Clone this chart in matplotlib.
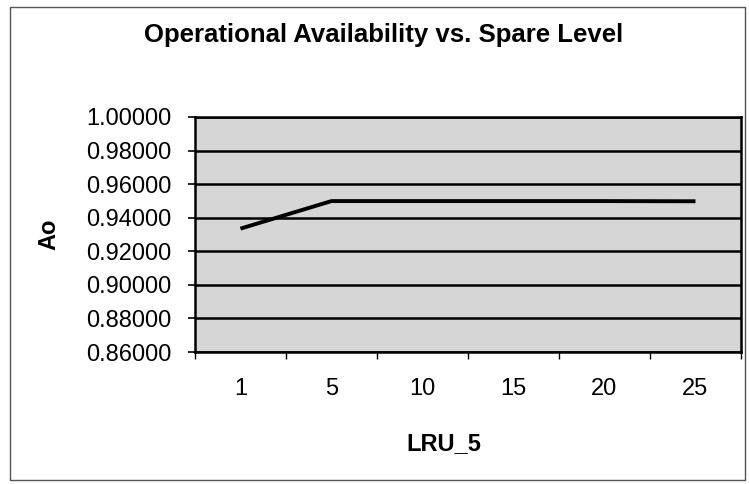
import matplotlib.pyplot as plt
from matplotlib.patches import Rectangle

# spare levels (category axis) and operational availability
spare_levels = ["1", "5", "10", "15", "20", "25"]
ao_values = [0.9335, 0.9499, 0.9499, 0.9499, 0.9499, 0.9498]
y_ticks = [0.86, 0.88, 0.90, 0.92, 0.94, 0.96, 0.98, 1.00]

plt.rcParams["font.family"] = ["Liberation Sans", "DejaVu Sans"]

fig = plt.figure(figsize=(7.49, 4.84), dpi=100)
ax = fig.add_axes([0.2603, 0.2727, 0.729, 0.4856])
ax.set_facecolor("#d6d6d6")

x = list(range(len(spare_levels)))
ax.plot(x, ao_values, color="black", lw=2.8, solid_capstyle="butt", zorder=3)

ax.set_ylim(0.86, 1.00)
ax.set_yticks(y_ticks)
ax.set_yticklabels([f"{v:.5f}" for v in y_ticks], fontsize=17)
ax.yaxis.grid(True, color="black", lw=1.8)
ax.set_axisbelow(True)
ax.tick_params(axis="y", length=5, width=1.2, pad=12)

ax.set_xlim(-0.5, len(spare_levels) - 0.5)
ax.set_xticks(x)
ax.set_xticklabels(spare_levels, fontsize=17)
ax.set_xticks([i - 0.5 for i in range(len(spare_levels) + 1)], minor=True)
ax.tick_params(axis="x", which="major", length=0, pad=19)
ax.tick_params(axis="x", which="minor", length=5, width=1.0)

for s in ax.spines.values():
    s.set_linewidth(1.8)

ax.set_ylabel("Ao", fontsize=17, fontweight="bold")
ax.yaxis.set_label_coords(-0.247, 0.5)
ax.set_xlabel("LRU_5", fontsize=17, fontweight="bold")
ax.xaxis.set_label_coords(0.456, -0.34)

fig.text(0.512, 0.927, "Operational Availability vs. Spare Level",
         fontsize=18.5, fontweight="bold", ha="center", va="center")

# chart area border
fig.patches.append(Rectangle((0.013, 0.008), 0.982, 0.977, transform=fig.transFigure,
                             fill=False, edgecolor="#555555", lw=1.0))

fig.savefig("out.png", dpi=100)
